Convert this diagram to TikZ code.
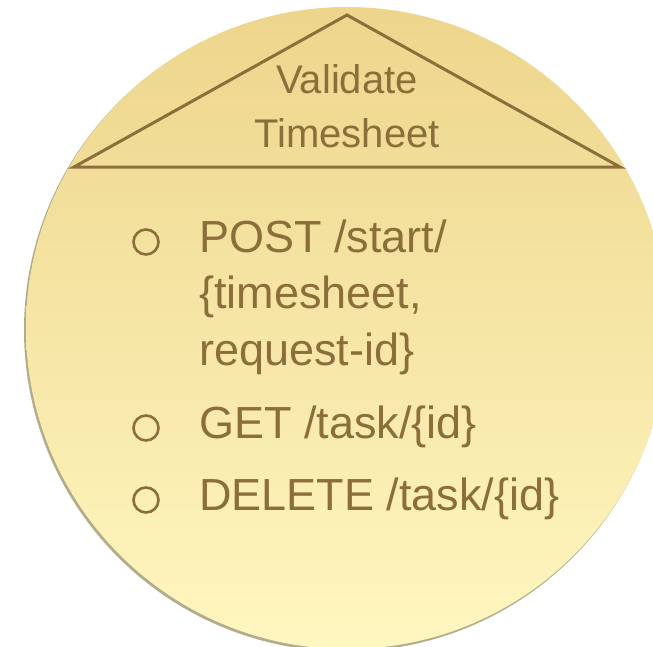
\documentclass[tikz,border=0pt]{standalone}
\usepackage{fontspec}
\setmainfont{Liberation Sans}
\begin{document}
\begin{tikzpicture}[x=1pt,y=-1pt]
  \definecolor{ink}{RGB}{140,110,58}
  \definecolor{rimshade}{RGB}{160,152,112}
  \definecolor{goldtop}{RGB}{237,213,140}
  \definecolor{goldbot}{RGB}{255,247,192}
  \tikzset{
    title/.style={text=ink,font=\fontsize{40}{54}\selectfont,anchor=base,inner sep=0pt},
    item/.style={text=ink,font=\fontsize{45}{56}\selectfont,anchor=base west,inner sep=0pt},
    bullet/.style={draw=ink,line width=2.6pt,circle,minimum size=25pt,inner sep=0pt}
  }
  \useasboundingbox (0,0) rectangle (653,646);
  % disc with a faint rim shadow on the lower left
  \begin{scope}
    \clip (0,0) rectangle (653,646);
    \fill[rimshade,opacity=0.8] (345.5,330) circle (321.5);
    \shade[top color=goldtop,bottom color=goldbot] (347,328) circle (321);
  \end{scope}
  % roof over the service name
  \coordinate (apex) at (347,15);
  \coordinate (bl) at (74,167);
  \coordinate (br) at (620,167);
  \draw[ink,line width=3pt,line join=miter] (bl) -- (apex) -- (br) -- cycle;
  \node[title] (t1) at (347,93) {Validate};
  \node[title] (t2) at (347,147) {Timesheet};
  % endpoints
  \node[bullet] (b1) at (146,242) {};
  \node[item] (post1) at (199,252) {POST /start/};
  \node[item] (post2) at (199,308) {\{timesheet,};
  \node[item] (post3) at (199,365) {request-id\}};
  \node[bullet] (b2) at (146,428) {};
  \node[item] (get) at (199,438) {GET /task/\{id\}};
  \node[bullet] (b3) at (146,500) {};
  \node[item] (del) at (199,510) {DELETE /task/\{id\}};
\end{tikzpicture}
\end{document}
